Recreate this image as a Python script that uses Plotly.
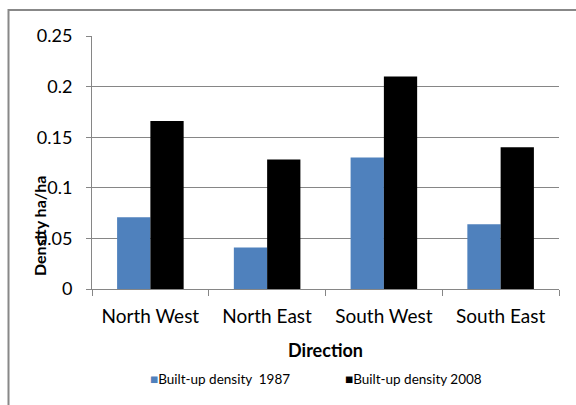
import plotly.graph_objects as go

categories = ["North West", "North East", "South West", "South East"]
density_1987 = [0.071, 0.041, 0.130, 0.064]
density_2008 = [0.166, 0.128, 0.210, 0.140]
series_names = ["Built-up density  1987", "Built-up density 2008"]
series_colors = ["#4f81bd", "#000000"]
y_ticks = [0, 0.05, 0.1, 0.15, 0.2, 0.25]
y_tick_text = ["0", "0.05", "0.1", "0.15", "0.2", "0.25"]

FONT = "Lato, Carlito, Calibri, sans-serif"
L, R, T, B = 92, 559, 36, 289
PW, PH = R - L, B - T

def px(x):
    return (x - L) / PW

def py(y):
    return (B - y) / PH

fig = go.Figure()
for name, vals, col in zip(series_names, [density_1987, density_2008], series_colors):
    fig.add_trace(go.Bar(x=categories, y=vals, name=name,
                         marker=dict(color=col, line=dict(width=0))))

legend_ann = []
legend_x = [150, 345]
for name, col, x0 in zip(series_names, series_colors, legend_x):
    legend_ann.append(dict(
        text=f"<span style='color:{col}'>■</span>{name}",
        xref="paper", yref="paper", x=px(x0 - 2), y=py(379),
        xanchor="left", yanchor="middle", showarrow=False,
        font=dict(size=13.5, family=FONT, color="#000000")))

fig.update_layout(
    width=576, height=405,
    margin=dict(l=L, r=576 - R, t=T, b=405 - B),
    paper_bgcolor="white", plot_bgcolor="white",
    barmode="group", bargap=0.43, bargroupgap=0,
    font=dict(family=FONT, color="#000000"),
    showlegend=False,
    xaxis=dict(
        showline=True, linecolor="#868686", linewidth=1,
        ticks="outside", ticklen=6, tickcolor="#868686", tickson="boundaries",
        tickfont=dict(size=19, family=FONT), ticklabelstandoff=10,
        title=dict(text="<b>Direction</b>", font=dict(size=18, family=FONT), standoff=18),
        showgrid=False,
    ),
    yaxis=dict(
        range=[0, 0.25], tickvals=y_ticks, ticktext=y_tick_text,
        showline=True, linecolor="#868686", linewidth=1,
        ticks="outside", ticklen=5, tickcolor="#868686",
        showgrid=True, gridcolor="#868686", gridwidth=1,
        tickfont=dict(size=18, family=FONT), ticklabelstandoff=10, zeroline=False,
    ),
    annotations=[dict(
        text="<b>Density ha/ha</b>", xref="paper", yref="paper",
        x=px(39), y=py(226), textangle=-90,
        showarrow=False, font=dict(size=16, family=FONT),
        xanchor="center", yanchor="middle")] + legend_ann,
    shapes=[dict(type="rect", xref="paper", yref="paper",
                 x0=px(8.5), x1=1.2, y0=-0.6, y1=py(10),
                 line=dict(color="#888888", width=2), fillcolor="rgba(0,0,0,0)",
                 layer="below")],
)

fig.write_html("out.html")
